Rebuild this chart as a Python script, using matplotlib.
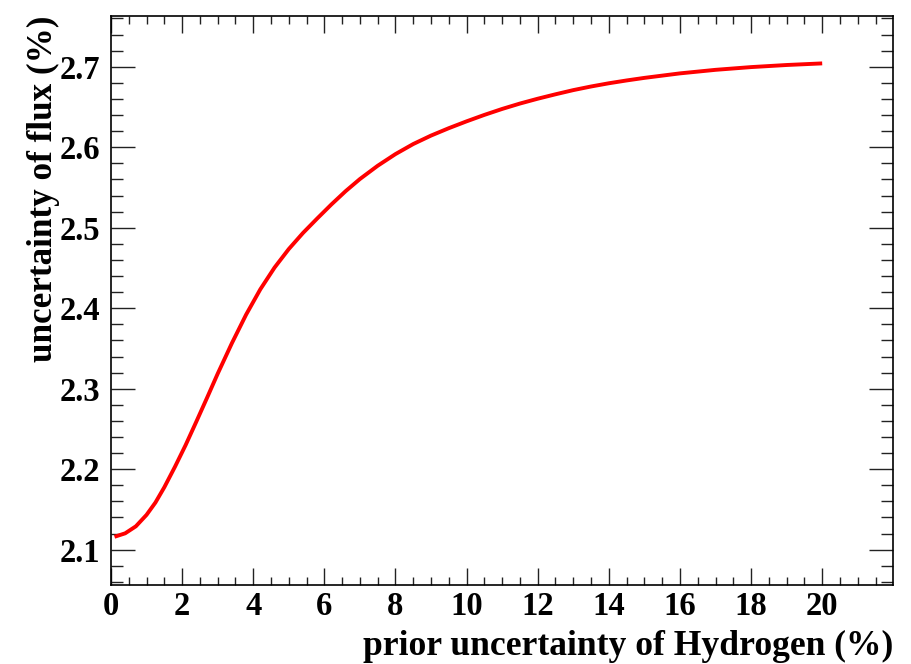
import numpy as np
import matplotlib.pyplot as plt
from matplotlib.ticker import MultipleLocator

# -------------------------------------------------------------------
# Data
# -------------------------------------------------------------------
prior_h = [0.1, 0.4, 0.7, 1.0, 1.25, 1.5, 1.8, 2.1, 2.4, 2.7, 3.0, 3.4,
           3.8, 4.2, 4.6, 5.0, 5.4, 5.8, 6.2, 6.6, 7.0, 7.5, 8.0, 8.5,
           9.0, 9.5, 10.0, 10.5, 11.0, 11.5, 12.0, 12.5, 13.0, 13.5,
           14.0, 14.5, 15.0, 16.0, 17.0, 18.0, 19.0, 20.0]
flux_unc = [2.1160, 2.1203, 2.1290, 2.1432, 2.1585, 2.1775, 2.2030,
            2.2300, 2.2590, 2.2885, 2.3185, 2.3565, 2.3920, 2.4235,
            2.4505, 2.4735, 2.4935, 2.5115, 2.5290, 2.5455, 2.5605,
            2.5770, 2.5915, 2.6040, 2.6145, 2.6237, 2.6322, 2.6402,
            2.6476, 2.6543, 2.6603, 2.6658, 2.6710, 2.6755, 2.6795,
            2.6830, 2.6862, 2.6918, 2.6962, 2.6996, 2.7022, 2.7042]

x_label = "prior uncertainty of Hydrogen (%)"
y_label = "uncertainty of flux (%)"

plt.rcParams['font.family'] = ['Liberation Serif', 'DejaVu Serif']
plt.rcParams['font.weight'] = 'bold'

fig = plt.figure(figsize=(9.11, 6.64), dpi=100)
ax = fig.add_axes([0.1218, 0.1190, 0.9802 - 0.1218, 0.9764 - 0.1190])

ax.plot(prior_h, flux_unc, color='red', lw=2.8, solid_capstyle='butt',
        solid_joinstyle='round')

ax.set_xlim(0, 21.99)
ax.set_ylim(2.0561, 2.7635)

ax.xaxis.set_minor_locator(MultipleLocator(0.5))
ax.yaxis.set_major_locator(MultipleLocator(0.1))
ax.yaxis.set_minor_locator(MultipleLocator(0.02))
ax.set_xticks(np.arange(0, 21, 2))
ax.set_xticklabels([f"{v:d}" for v in range(0, 21, 2)])

# ROOT-like ticks: inside, on all four sides
ax.tick_params(axis='both', which='both', direction='in', top=True, right=True,
               width=1.0, color='#222222')
ax.tick_params(axis='x', which='major', length=12.2, labelsize=23.5, pad=4)
ax.tick_params(axis='x', which='minor', length=6)
ax.tick_params(axis='y', which='major', length=17, labelsize=23.5, pad=8)
ax.tick_params(axis='y', which='minor', length=8.6)
for lab in ax.get_xticklabels() + ax.get_yticklabels():
    lab.set_fontweight('bold')
for sp in ax.spines.values():
    sp.set_linewidth(1.2)

fig.text(0.9802, 0.0135, x_label, ha='right', va='baseline',
         fontsize=25.6, fontweight='bold')
fig.text(0.048, 0.9764, y_label, ha='center', va='top', rotation=90,
         fontsize=25.3, fontweight='bold')

plt.savefig('out.png', dpi=100)
